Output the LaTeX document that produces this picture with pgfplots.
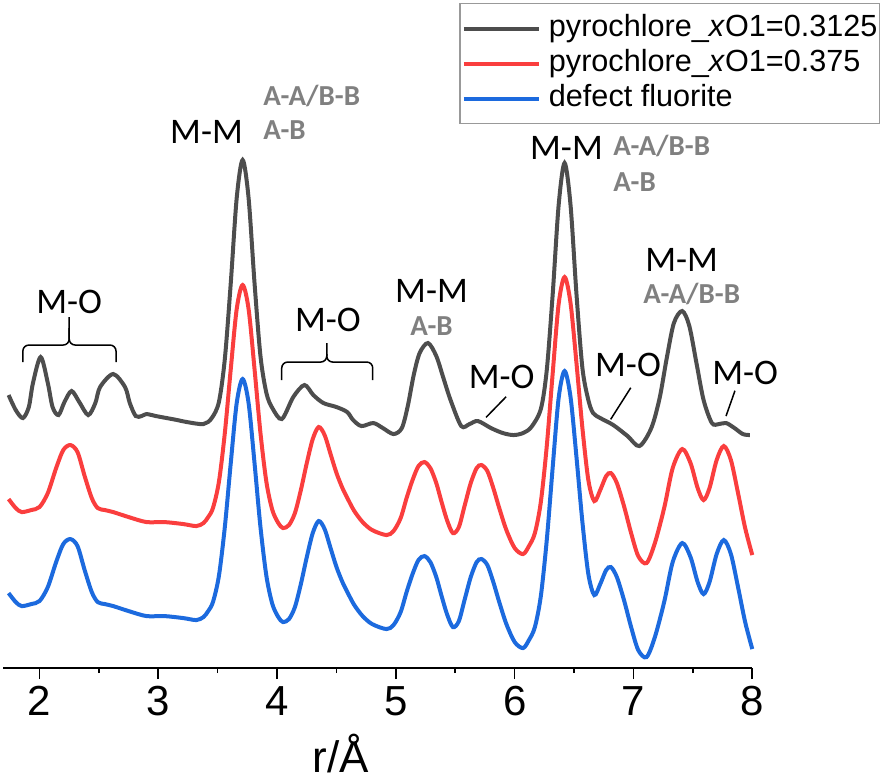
\documentclass[border=0pt]{standalone}
\usepackage{fontspec}
\setmainfont{Liberation Sans}
\newfontfamily\calib{Carlito}
\usepackage{pgfplots}
\pgfplotsset{compat=1.18}
\definecolor{cblack}{RGB}{77,77,77}
\definecolor{cred}{RGB}{250,62,62}
\definecolor{cblue}{RGB}{28,106,222}
\newcommand{\mlab}{\calib\fontsize{18}{18}\selectfont}
\newcommand{\glab}{\calib\bfseries\fontsize{14.5}{14.5}\selectfont\color{gray}}

\begin{document}
\begin{tikzpicture}
\begin{axis}[
    width=374.6pt, height=334pt, scale only axis,
    xmin=1.6928, xmax=8, ymin=0, ymax=668,
    axis x line*=bottom, axis y line=none, ytick=\empty,
    xtick={2,...,8}, minor x tick num=1, tick align=outside,
    major tick length=5.5pt, minor tick length=2.5pt,
    x axis line style={line width=1pt},
    tick style={line width=0.8pt, black},
    /pgf/number format/assume math mode=true,
    xticklabel style={font=\fontsize{21}{21}\selectfont},
    xlabel={r/Å},
    xlabel style={font=\fontsize{22}{22}\selectfont, at={(axis description cs:0.451,0)}, anchor=base, yshift=-52pt},
    clip=false,
    legend style={at={(rel axis cs:1.1704,0.9955)}, anchor=north east,
        draw=gray!80, line width=0.6pt, inner xsep=1pt, inner ysep=5pt,
        font=\fontsize{15.3}{17.5}\selectfont, row sep=2.5pt,
        nodes={inner xsep=0pt, inner ysep=0pt, text height=11.5pt, text depth=3.5pt},
        cells={anchor=west}},
    legend image code/.code={\draw[#1, line width=2pt] (0pt,0pt) -- (37.5pt,0pt); \path (41.5pt,0pt);},
]
\addplot[cblack, line width=2pt, smooth] coordinates {
(1.74,273) (1.80,258) (1.86,250) (1.91,261) (1.945,285) (2.01,311) (2.07,285) (2.11,261) (2.16,253) (2.21,266) (2.27,277) (2.335,266) (2.41,253) (2.47,265) (2.51,281) (2.62,294) (2.72,281) (2.76,265) (2.81,252) (2.86,252) (2.90,254) (2.98,252) (3.07,250) (3.16,248) (3.24,246) (3.38,244) (3.45,250) (3.51,266) (3.56,309) (3.61,385) (3.66,470) (3.71,508) (3.76,470) (3.81,385) (3.86,312) (3.91,275) (3.96,260) (4.04,249) (4.136,271) (4.23,283) (4.305,273) (4.39,265) (4.50,261) (4.59,256) (4.64,248) (4.71,242) (4.81,245) (4.89,240) (4.98,234) (5.05,240) (5.10,262) (5.15,293) (5.20,315) (5.27,325) (5.34,312) (5.40,290) (5.46,268) (5.55,242) (5.62,244) (5.69,247) (5.80,240) (5.90,235) (5.99,233) (6.07,235) (6.14,241) (6.22,259) (6.27,298) (6.32,374) (6.37,463) (6.42,505) (6.47,463) (6.52,374) (6.57,300) (6.62,268) (6.66,255) (6.72,250) (6.83,243) (6.95,232) (7.05,222) (7.15,240) (7.22,270) (7.28,310) (7.34,345) (7.41,357) (7.47,342) (7.53,305) (7.59,268) (7.66,245) (7.72,244) (7.78,245) (7.85,240) (7.92,234) (7.98,233)
};
\addlegendentry{pyrochlore\_\textit{x}O1=0.3125}
\addplot[cred, line width=2pt, smooth] coordinates {
(1.74,169) (1.80,160) (1.85,156) (1.93,158) (2.00,161) (2.07,175) (2.14,200) (2.20,218) (2.26,223) (2.32,216) (2.38,192) (2.44,170) (2.49,160) (2.55,158) (2.62,156) (2.75,151) (2.90,146) (3.05,146) (3.21,144) (3.32,142) (3.38,145) (3.42,151) (3.46,160) (3.51,186) (3.56,235) (3.61,299) (3.66,359) (3.71,383) (3.76,359) (3.81,299) (3.86,235) (3.91,186) (3.96,158) (4.01,145) (4.05,140) (4.10,143) (4.15,155) (4.20,178) (4.25,205) (4.30,229) (4.35,241) (4.40,233) (4.45,214) (4.50,195) (4.55,180) (4.60,168) (4.65,157) (4.72,146) (4.80,138) (4.92,133) (4.98,137) (5.04,150) (5.09,170) (5.14,188) (5.19,202) (5.24,206) (5.29,200) (5.34,185) (5.38,168) (5.43,148) (5.48,135) (5.53,141) (5.58,163) (5.63,185) (5.68,200) (5.72,203) (5.77,197) (5.82,180) (5.87,160) (5.93,138) (6.00,120) (6.07,114) (6.12,122) (6.17,135) (6.22,166) (6.27,222) (6.32,295) (6.37,364) (6.42,391) (6.47,365) (6.52,305) (6.57,240) (6.62,188) (6.67,167) (6.72,178) (6.77,192) (6.81,195) (6.86,185) (6.92,162) (6.98,135) (7.04,112) (7.11,105) (7.18,125) (7.26,161) (7.33,200) (7.41,219) (7.48,205) (7.54,180) (7.59,168) (7.64,180) (7.70,208) (7.76,222) (7.82,208) (7.88,175) (7.94,140) (8.00,113)
};
\addlegendentry{pyrochlore\_\textit{x}O1=0.375}
\addplot[cblue, line width=2pt, smooth] coordinates {
(1.74,75) (1.80,66) (1.85,62) (1.93,64) (2.00,67) (2.07,81) (2.14,106) (2.20,124) (2.26,129) (2.32,122) (2.38,98) (2.44,76) (2.49,66) (2.55,64) (2.62,62) (2.75,57) (2.90,52) (3.05,52) (3.21,50) (3.32,48) (3.38,51) (3.42,57) (3.46,66) (3.51,92) (3.56,141) (3.61,205) (3.66,265) (3.71,289) (3.76,265) (3.81,205) (3.86,141) (3.91,92) (3.96,64) (4.01,51) (4.05,46) (4.10,49) (4.15,61) (4.20,84) (4.25,111) (4.30,135) (4.35,147) (4.40,139) (4.45,120) (4.50,101) (4.55,86) (4.60,74) (4.65,63) (4.72,52) (4.80,44) (4.92,39) (4.98,43) (5.04,56) (5.09,76) (5.14,94) (5.19,108) (5.24,112) (5.29,106) (5.34,91) (5.38,74) (5.43,54) (5.48,41) (5.53,47) (5.58,69) (5.63,91) (5.68,106) (5.72,109) (5.77,103) (5.82,86) (5.87,66) (5.93,44) (6.00,26) (6.07,20) (6.12,28) (6.17,41) (6.22,72) (6.27,128) (6.32,201) (6.37,270) (6.42,297) (6.47,271) (6.52,211) (6.57,146) (6.62,94) (6.67,73) (6.72,84) (6.77,98) (6.81,101) (6.86,91) (6.92,68) (6.98,41) (7.04,18) (7.11,11) (7.18,31) (7.26,67) (7.33,106) (7.41,125) (7.48,111) (7.54,86) (7.59,74) (7.64,86) (7.70,114) (7.76,128) (7.82,114) (7.88,81) (7.94,46) (8.00,19)
};
\addlegendentry{defect fluorite}

% brackets
\draw[line width=0.75pt, rounded corners=3pt] (axis cs:1.86,306) -- (axis cs:1.86,323) -- (axis cs:2.25,323) -- (axis cs:2.25,351);
\draw[line width=0.75pt, rounded corners=3pt] (axis cs:2.25,340) -- (axis cs:2.25,323) -- (axis cs:2.644,323) -- (axis cs:2.644,306);
\draw[line width=0.75pt, rounded corners=3pt] (axis cs:4.039,288) -- (axis cs:4.039,306) -- (axis cs:4.418,306) -- (axis cs:4.418,325);
\draw[line width=0.75pt, rounded corners=3pt] (axis cs:4.418,314) -- (axis cs:4.418,306) -- (axis cs:4.805,306) -- (axis cs:4.805,288);
% leader lines
\draw[line width=0.75pt] (axis cs:5.928,271.3) -- (axis cs:5.759,250.7);
\draw[line width=0.75pt] (axis cs:6.977,280.3) -- (axis cs:6.808,248.7);
\draw[line width=0.75pt] (axis cs:7.854,277.3) -- (axis cs:7.779,252);
% labels
\node[inner sep=0pt] at (axis cs:2.25,366) {\mlab M-O};
\node[inner sep=0pt] at (axis cs:4.428,348) {\mlab M-O};
\node[inner sep=0pt] at (axis cs:5.89,291) {\mlab M-O};
\node[inner sep=0pt] at (axis cs:6.954,303) {\mlab M-O};
\node[inner sep=0pt] at (axis cs:7.94,295.5) {\mlab M-O};
\node[inner sep=0pt] at (axis cs:3.406,536.5) {\mlab M-M};
\node[inner sep=0pt] at (axis cs:5.30,377) {\mlab M-M};
\node[inner sep=0pt] at (axis cs:6.436,520) {\mlab M-M};
\node[inner sep=0pt] at (axis cs:7.406,408) {\mlab M-M};
\node[inner sep=0pt, anchor=west] at (axis cs:3.881,572) {\glab A-A/B-B};
\node[inner sep=0pt, anchor=west] at (axis cs:3.881,538) {\glab A-B};
\node[inner sep=0pt] at (axis cs:5.30,342) {\glab A-B};
\node[inner sep=0pt, anchor=west] at (axis cs:6.828,522) {\glab A-A/B-B};
\node[inner sep=0pt, anchor=west] at (axis cs:6.828,486) {\glab A-B};
\node[inner sep=0pt] at (axis cs:7.49,374) {\glab A-A/B-B};
% page extent
\path (axis cs:1.6675,-114) rectangle (axis cs:9.0918,668);
\end{axis}
\end{tikzpicture}
\end{document}
